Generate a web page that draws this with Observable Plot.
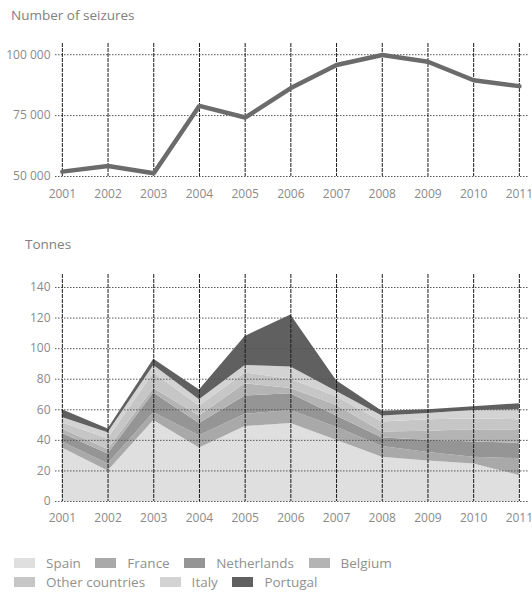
<!DOCTYPE html>
<html><head><meta charset="utf-8">
<script src="https://cdn.jsdelivr.net/npm/d3@7"></script>
<script src="https://cdn.jsdelivr.net/npm/@observablehq/plot@0.6"></script>
<style>
body{margin:0;width:532px;height:592px;position:relative;overflow:hidden;background:#fff;font-family:"Open Sans",sans-serif;}
.title{position:absolute;font-size:13.5px;color:#808080;line-height:18px;white-space:nowrap;}
#topChart{position:absolute;left:0;top:0;}
#bottomChart{position:absolute;left:0;top:230px;}
#legend{position:absolute;left:14px;top:553px;font-size:13.5px;color:#909090;}
.row{display:flex;align-items:center;height:19.5px;}
.item{display:flex;align-items:center;margin-right:14.5px;white-space:nowrap;}
.sw{width:21px;height:10px;margin-right:11px;}
</style></head><body>
<div id="topChart"></div>
<div id="bottomChart"></div>
<div class="title" style="left:11px;top:6px">Number of seizures</div>
<div class="title" style="left:25px;top:235px">Tonnes</div>
<div id="legend"></div>
<script>
const years = [2001, 2002, 2003, 2004, 2005, 2006, 2007, 2008, 2009, 2010, 2011];
const seizures = [52000, 54300, 51300, 79000, 74200, 86300, 95800, 99900, 97100, 89500, 87100];
const seizureTicks = [50000, 75000, 100000];
const tonneTicks = [0, 20, 40, 60, 80, 100, 120, 140];

const countries = ["Spain", "France", "Netherlands", "Belgium", "Other countries", "Italy", "Portugal"];
const countryColors = ["#dfdfdf", "#a9a9a9", "#959595", "#b4b4b4", "#c6c6c6", "#d3d3d3", "#606060"];

const spain       = [35, 20, 53, 35, 49, 51, 40, 29, 26.5, 24.5, 17];
const france      = [4, 4.5, 5, 8, 8, 8.5, 8.5, 7, 5.5, 4.5, 11];
const netherlands = [5.5, 6.5, 13, 8, 12, 11, 7.5, 5.5, 8, 10, 10];
const belgium     = [3, 3, 3, 5, 8, 3.5, 7, 4, 6, 8, 8.5];
const others      = [4, 7, 10, 6.5, 7, 6, 5.5, 6.5, 7.5, 7, 7];
const italy       = [3.5, 4, 5, 4, 5, 8, 3.5, 4, 4, 5.5, 6.5];
const portugal    = [5, 2.5, 4, 6.5, 19, 34, 7, 3, 2.5, 2.5, 4];

const seriesValues = [spain, france, netherlands, belgium, others, italy, portugal];
const tonnes = [];
countries.forEach((c, i) => years.forEach((y, j) => tonnes.push({country: c, year: y, value: seriesValues[i][j]})));
const seizureData = years.map((y, i) => ({year: y, value: seizures[i]}));

const spaceFmt = d => d3.format(",")(d).replace(/,/g, " ");
const commonStyle = {fontFamily: "Open Sans, sans-serif", fontSize: "12px", color: "#8a8a8a", background: "transparent", overflow: "visible"};
const hGrid = ticks => Plot.ruleY(ticks, {stroke: "#555", strokeWidth: 1, strokeDasharray: "1.5,1.5"});
const vGrid = Plot.ruleX(years, {stroke: "#1a1a1a", strokeWidth: 1, strokeDasharray: "4,1"});

const topPlot = Plot.plot({
  width: 532, height: 210,
  marginTop: 43, marginBottom: 34, marginLeft: 55, marginRight: 4,
  x: {domain: [2000.85, 2011.2]},
  y: {domain: [50000, 104600]},
  style: commonStyle,
  marks: [
    hGrid(seizureTicks),
    vGrid,
    Plot.line(seizureData, {x: "year", y: "value", stroke: "#6b6b6b", strokeWidth: 4.5, strokeLinejoin: "miter"}),
    Plot.axisX({ticks: years, tickFormat: d => String(d), tickSize: 0, tickPadding: 13, label: null}),
    Plot.axisY({ticks: seizureTicks, tickFormat: spaceFmt, tickSize: 0, tickPadding: 5, label: null})
  ]
});
document.getElementById("topChart").appendChild(topPlot);

const bottomPlot = Plot.plot({
  width: 532, height: 300,
  marginTop: 44, marginBottom: 29, marginLeft: 55, marginRight: 4,
  x: {domain: [2000.85, 2011.2]},
  y: {domain: [0, 148.5]},
  color: {domain: countries, range: countryColors},
  style: commonStyle,
  marks: [
    Plot.areaY(tonnes, {x: "year", y: "value", fill: "country", order: null}),
    hGrid(tonneTicks),
    vGrid,
    Plot.axisX({ticks: years, tickFormat: d => String(d), tickSize: 0, tickPadding: 12, label: null}),
    Plot.axisY({ticks: tonneTicks, tickSize: 0, tickPadding: 5, label: null})
  ]
});
document.getElementById("bottomChart").appendChild(bottomPlot);

const legend = document.getElementById("legend");
[countries.slice(0, 4), countries.slice(4)].forEach(rowItems => {
  const row = document.createElement("div");
  row.className = "row";
  rowItems.forEach(c => {
    const item = document.createElement("div");
    item.className = "item";
    const sw = document.createElement("div");
    sw.className = "sw";
    sw.style.background = countryColors[countries.indexOf(c)];
    const lab = document.createElement("span");
    lab.textContent = c;
    item.appendChild(sw);
    item.appendChild(lab);
    row.appendChild(item);
  });
  legend.appendChild(row);
});
</script>
</body></html>
